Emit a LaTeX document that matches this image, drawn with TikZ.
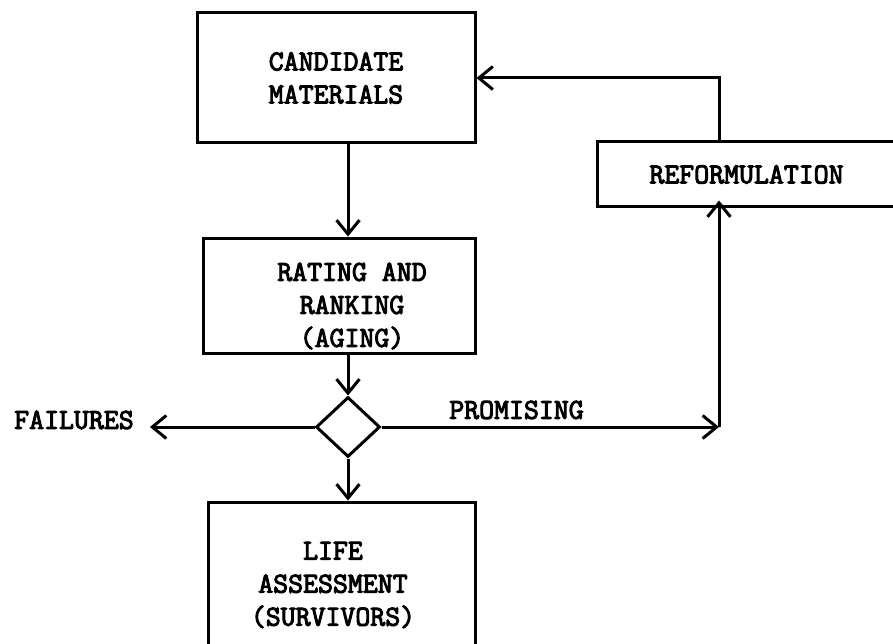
\documentclass[tikz,border=0pt]{standalone}
\usepackage{fontspec}
\newfontfamily\typewriter[FakeBold=3.5]{Latin Modern Mono}
\usepackage{tikz}
\usetikzlibrary{shapes.geometric, arrows.meta, positioning}
\tikzset{
    box/.style={rectangle, draw, line width=3pt, text centered, align=center, font=\typewriter\fontsize{29}{33}\selectfont},
    decision/.style={diamond, draw, line width=3pt, inner sep=0pt, minimum width=64pt, minimum height=60pt},
    tag/.style={align=center, font=\typewriter\fontsize{29}{33}\selectfont},
    flow/.style={-{Straight Barb[length=14pt,width=23pt,line width=3pt]}, line width=3pt}
}
\begin{document}
\begin{tikzpicture}[x=1pt, y=-1pt]
    \useasboundingbox (0,0) rectangle (893,644);

    % Main boxes
    \node[box, minimum width=278pt, minimum height=130pt] (candidates) at (336,78) {CANDIDATE\\MATERIALS};
    \node[box, minimum width=272pt, minimum height=115pt] (rating) at (339,295.5) {};
    \node[tag] at (352,306) {RATING AND\\ RANKING\\ (AGING)};
    \node[decision] (check) at (348,427) {};
    \node[box, minimum width=267pt, minimum height=162pt] (life) at (341.5,583) {};
    \node[tag] at (333,585) {LIFE\\ASSESSMENT\\ (SURVIVORS)};

    % Side box
    \node[box, minimum width=299pt, minimum height=65pt] (reform) at (746.5,174.5) {REFORMULATION};

    % Outcome label
    \node[tag, inner xsep=16pt] (failures) at (74,420) {FAILURES};
    \coordinate (corner) at (719,427);

    % Flows
    \draw[flow] (candidates.south -| check.north) -- (rating.north -| check.north);
    \draw[flow] (rating.south -| check.north) -- (check.north);
    \draw[flow] (check.west) -- (failures.east |- check.west);
    \draw[flow] (check.south) -- (life.north -| check.south);
    \draw[flow] (check.east) -- (corner) node[tag, pos=0.4, above=3pt] {PROMISING};
    \draw[flow] (corner) -- ([yshift=8pt]reform.south -| corner);
    \draw[flow] (reform.north -| corner) |- (candidates.east);
\end{tikzpicture}
\end{document}
